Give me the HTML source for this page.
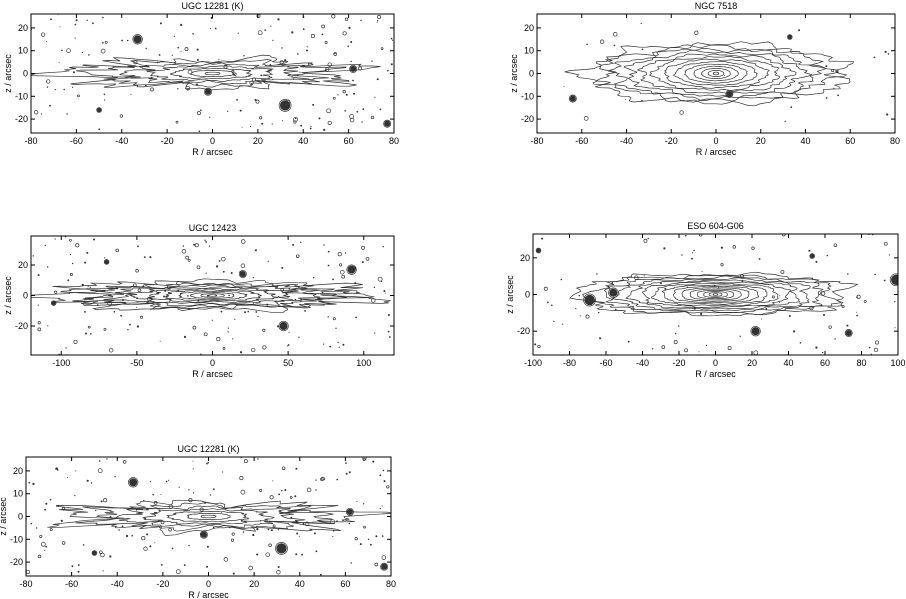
<!DOCTYPE html>
<html><head><meta charset="utf-8"><style>
body{margin:0;background:#fff;}
svg{display:block;font-family:"Liberation Sans",sans-serif;}
</style></head><body>
<svg id="s" width="906" height="599" viewBox="0 0 906 599" xmlns="http://www.w3.org/2000/svg"></svg>
<script>
var S=document.getElementById('s'),out='';
var seed=7;function rnd(){seed=(seed*16807)%2147483647;return seed/2147483647;}
function panel(p){
 var L=p.x0,R=p.x1,T=p.y0,B=p.y1;
 function X(v){return L+(v-p.xr[0])/(p.xr[1]-p.xr[0])*(R-L);}
 function Y(v){return B-(v-p.yr[0])/(p.yr[1]-p.yr[0])*(B-T);}
 var g='<g clip-path="url(#c'+p.id+')" fill="none" stroke="#333" stroke-width="0.7">';
 for(var k=0;k<p.n;k++){
  var f=Math.pow((k+1)/p.n,1.5);
  var a=p.a*f,b=p.b*Math.pow(f,0.8),d='';
  var ph=[rnd()*6,rnd()*6,rnd()*6,rnd()*6];
  var N=140;
  for(var i=0;i<=N;i++){var t=i/N*2*Math.PI;
   var nz=1+p.noise*f*(0.5*Math.sin(7*t+ph[0])+0.35*Math.sin(13*t+ph[1])+0.25*Math.sin(23*t+ph[2])+0.2*Math.sin(37*t+ph[3]));
   var ex=Math.cos(t),ey=Math.sin(t);
   var sy=Math.sign(ey)*Math.pow(Math.abs(ey),p.pw||1);
   var px=X(a*ex*nz),py=Y(b*sy*nz);
   d+=(i?'L':'M')+px.toFixed(1)+' '+py.toFixed(1);}
  g+='<path d="'+d+'Z"/>';
 }
 (p.stars||[]).forEach(function(s){
  g+='<circle cx="'+X(s[0]).toFixed(1)+'" cy="'+Y(s[1]).toFixed(1)+'" r="'+(s[2]*0.9)+'" fill="#333"/>';
  for(var r=1;r<=s[2];r++)g+='<circle cx="'+X(s[0]).toFixed(1)+'" cy="'+Y(s[1]).toFixed(1)+'" r="'+(r*1.2)+'"/>';
 });
 for(var i=0;i<p.dots;i++){
  var x=L+rnd()*(R-L),y=T+rnd()*(B-T);
  var r=rnd();
  if(r<0.75)g+='<circle cx="'+x.toFixed(1)+'" cy="'+y.toFixed(1)+'" r="'+(0.5+rnd()*0.6).toFixed(1)+'" fill="#333" stroke="none"/>';
  else g+='<circle cx="'+x.toFixed(1)+'" cy="'+y.toFixed(1)+'" r="'+(1+rnd()*1).toFixed(1)+'" stroke-width="0.7"/>';
 }
 g+='</g>';
 var s='<defs><clipPath id="c'+p.id+'"><rect x="'+L+'" y="'+T+'" width="'+(R-L)+'" height="'+(B-T)+'"/></clipPath></defs>'+g;
 s+='<rect x="'+L+'" y="'+T+'" width="'+(R-L)+'" height="'+(B-T)+'" fill="none" stroke="#000" stroke-width="1"/>';
 p.xt.forEach(function(v){var x=X(v);
  s+='<line x1="'+x+'" y1="'+B+'" x2="'+x+'" y2="'+(B-4)+'" stroke="#000"/><line x1="'+x+'" y1="'+T+'" x2="'+x+'" y2="'+(T+4)+'" stroke="#000"/>';
  s+='<text x="'+x+'" y="'+(B+11)+'" font-size="9" text-anchor="middle">'+v+'</text>';});
 p.yt.forEach(function(v){var y=Y(v);
  s+='<line x1="'+L+'" y1="'+y+'" x2="'+(L+4)+'" y2="'+y+'" stroke="#000"/><line x1="'+R+'" y1="'+y+'" x2="'+(R-4)+'" y2="'+y+'" stroke="#000"/>';
  s+='<text x="'+(L-3)+'" y="'+(y+3)+'" font-size="9" text-anchor="end">'+v+'</text>';});
 s+='<text x="'+((L+R)/2)+'" y="'+(T-5)+'" font-size="9" text-anchor="middle">'+p.title+'</text>';
 s+='<text x="'+((L+R)/2)+'" y="'+(B+22)+'" font-size="9" text-anchor="middle">R  /  arcsec</text>';
 s+='<text transform="translate('+(L-20)+','+((T+B)/2)+') rotate(-90)" font-size="9" text-anchor="middle">z  /  arcsec</text>';
 out+=s;
}
var u={xr:[-80,80],yr:[-26.1,26.1],xt:[-80,-60,-40,-20,0,20,40,60,80],yt:[-20,-10,0,10,20],title:'UGC 12281 (K)',a:60,b:6,n:7,noise:0.35,dots:170,pw:0.7,
 stars:[[-33,15,4],[-2,-8,3],[32,-14,5],[77,-22,3],[62,2,3],[-50,-16,2]]};
panel(Object.assign({},u,{id:1,x0:31,x1:394,y0:14,y1:133}));
panel(Object.assign({},u,{id:5,x0:26,x1:391,y0:457,y1:576}));
panel({id:2,x0:537,x1:895,y0:14,y1:133,xr:[-80,80],yr:[-26.1,26.1],xt:[-80,-60,-40,-20,0,20,40,60,80],yt:[-20,-10,0,10,20],title:'NGC 7518',
 a:58,b:13,n:13,noise:0.15,dots:25,pw:1,stars:[[-64,-11,3],[6,-9,3],[33,16,2]]});
panel({id:3,x0:31,x1:394,y0:236,y1:355,xr:[-120,120],yr:[-39,39],xt:[-100,-50,0,50,100],yt:[-20,0,20],title:'UGC 12423',
 a:100,b:9,n:11,noise:0.3,dots:160,pw:0.8,stars:[[47,-20,4],[92,17,4],[20,14,3],[-70,22,2],[-105,-5,2]]});
panel({id:4,x0:533,x1:898,y0:234,y1:355,xr:[-100,100],yr:[-33,33],xt:[-100,-80,-60,-40,-20,0,20,40,60,80,100],yt:[-20,0,20],title:'ESO 604-G06',
 a:72,b:11,n:15,noise:0.12,dots:100,pw:0.6,stars:[[-69,-3,5],[-56,1,4],[22,-20,4],[73,-21,3],[99,8,5],[-97,24,2],[53,21,2]]});
S.innerHTML=out;
</script>
</body></html>
